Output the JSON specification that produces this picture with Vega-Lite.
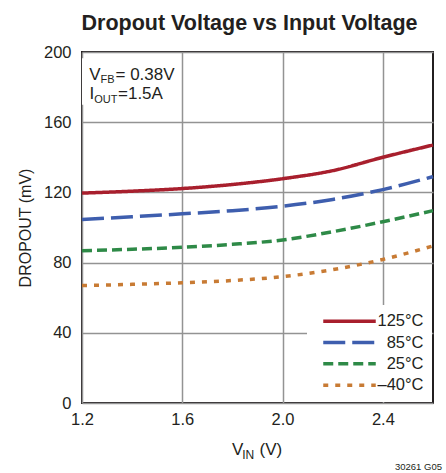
{
  "$schema": "https://vega.github.io/schema/vega-lite/v6.json",
  "width": 351,
  "height": 351,
  "autosize": {"type": "none"},
  "padding": {"left": 82, "top": 52, "right": 13, "bottom": 70},
  "background": "white",
  "title": {
    "text": "Dropout Voltage vs Input Voltage",
    "font": "Liberation Sans",
    "fontWeight": "bold",
    "fontSize": 21.5,
    "color": "#231f20",
    "anchor": "middle",
    "frame": "group",
    "dx": -8,
    "offset": 10
  },
  "config": {
    "view": {"stroke": "#231f20", "strokeWidth": 2},
    "axis": {
      "domain": false,
      "ticks": false,
      "grid": true,
      "gridColor": "#939393",
      "gridWidth": 1.5,
      "labelOverlap": false,
      "labelFont": "Liberation Sans",
      "labelFontSize": 16.5,
      "labelColor": "#231f20",
      "titleFont": "Liberation Sans",
      "titleFontSize": 16,
      "titleFontWeight": "normal",
      "titleColor": "#231f20"
    },
    "axisX": {"tickCount": 7, "labelFlush": false, "labelPadding": 8},
    "axisY": {"tickCount": 10, "labelPadding": 11, "titlePadding": 10}
  },
  "datasets": {
    "curves": [
      {"temp": "125°C", "vin": 1.2, "dropout": 119.6},
      {"temp": "125°C", "vin": 1.4, "dropout": 120.7},
      {"temp": "125°C", "vin": 1.6, "dropout": 122.2},
      {"temp": "125°C", "vin": 1.8, "dropout": 124.5},
      {"temp": "125°C", "vin": 2.0, "dropout": 127.8},
      {"temp": "125°C", "vin": 2.2, "dropout": 132.4},
      {"temp": "125°C", "vin": 2.4, "dropout": 140.0},
      {"temp": "125°C", "vin": 2.6, "dropout": 147.0},
      {"temp": "85°C", "vin": 1.2, "dropout": 104.6},
      {"temp": "85°C", "vin": 1.4, "dropout": 106.1},
      {"temp": "85°C", "vin": 1.6, "dropout": 107.8},
      {"temp": "85°C", "vin": 1.8, "dropout": 109.6},
      {"temp": "85°C", "vin": 2.0, "dropout": 112.1},
      {"temp": "85°C", "vin": 2.2, "dropout": 116.0},
      {"temp": "85°C", "vin": 2.4, "dropout": 121.6},
      {"temp": "85°C", "vin": 2.6, "dropout": 129.0},
      {"temp": "25°C", "vin": 1.2, "dropout": 86.8},
      {"temp": "25°C", "vin": 1.4, "dropout": 87.6},
      {"temp": "25°C", "vin": 1.6, "dropout": 88.7},
      {"temp": "25°C", "vin": 1.8, "dropout": 90.4},
      {"temp": "25°C", "vin": 2.0, "dropout": 92.9},
      {"temp": "25°C", "vin": 2.2, "dropout": 97.6},
      {"temp": "25°C", "vin": 2.4, "dropout": 103.3},
      {"temp": "25°C", "vin": 2.6, "dropout": 109.6},
      {"temp": "–40°C", "vin": 1.2, "dropout": 66.9},
      {"temp": "–40°C", "vin": 1.4, "dropout": 67.6},
      {"temp": "–40°C", "vin": 1.6, "dropout": 68.5},
      {"temp": "–40°C", "vin": 1.8, "dropout": 69.8},
      {"temp": "–40°C", "vin": 2.0, "dropout": 72.0},
      {"temp": "–40°C", "vin": 2.2, "dropout": 76.0},
      {"temp": "–40°C", "vin": 2.4, "dropout": 81.8},
      {"temp": "–40°C", "vin": 2.6, "dropout": 89.5}
    ],
    "notes": [
      {"note": "V", "part": "vfb_main"},
      {"note": "FB", "part": "vfb_sub"},
      {"note": "= 0.38V", "part": "vfb_val"},
      {"note": "I", "part": "iout_main"},
      {"note": "OUT", "part": "iout_sub"},
      {"note": "=1.5A", "part": "iout_val"},
      {"note": "V", "part": "xt_main"},
      {"note": "IN", "part": "xt_sub"},
      {"note": "(V)", "part": "xt_unit"},
      {"note": "30261 G05", "part": "code"},
      {"note": "", "part": "box"}
    ]
  },
  "layer": [
    {
      "data": {"name": "curves"},
      "mark": {"type": "line", "strokeWidth": 3.5, "interpolate": "monotone"},
      "encoding": {
        "x": {
          "field": "vin",
          "type": "quantitative",
          "scale": {"domain": [1.2, 2.6], "nice": false, "zero": false},
          "axis": {
            "title": null,
            "values": [1.2, 1.4, 1.6, 1.8, 2.0, 2.2, 2.4, 2.6],
            "format": ".1f",
            "labelFlush": false,
            "labelOverlap": false,
            "labelPadding": 8
          }
        },
        "y": {
          "field": "dropout",
          "type": "quantitative",
          "scale": {"domain": [0, 200], "nice": false},
          "axis": {
            "title": "DROPOUT (mV)",
            "values": [0, 20, 40, 60, 80, 100, 120, 140, 160, 180, 200],
            "labelPadding": 11,
            "titlePadding": 10,
            "labelOverlap": false
          }
        },
        "color": {
          "field": "temp",
          "type": "nominal",
          "scale": {
            "domain": ["125°C", "85°C", "25°C", "–40°C"],
            "range": ["#a81f2d", "#3e5eae", "#2e8a47", "#c87b34"]
          },
          "legend": {
            "title": null,
            "orient": "bottom-right",
            "offset": 1,
            "fillColor": "white",
            "padding": 8,
            "symbolType": "M0,0H10.5",
            "symbolSize": 100,
            "symbolStrokeWidth": 3.5,
            "labelFont": "Liberation Sans",
            "labelFontSize": 16.5,
            "labelColor": "#231f20",
            "labelAlign": "right",
            "labelOffset": 92,
            "rowPadding": 4.3
          }
        },
        "strokeDash": {
          "field": "temp",
          "type": "nominal",
          "scale": {
            "domain": ["125°C", "85°C", "25°C", "–40°C"],
            "range": [[1, 0], [22, 7], [10, 5], [5, 7]]
          },
          "legend": null
        }
      }
    },
    {
      "data": {"name": "notes"},
      "transform": [{"filter": "datum.part == 'box'"}],
      "mark": {"type": "rect", "fill": "white"},
      "encoding": {
        "x": {"datum": 1.2, "type": "quantitative"},
        "x2": {"datum": 1.59},
        "y": {"datum": 196.5, "type": "quantitative"},
        "y2": {"datum": 170}
      }
    },
    {
      "data": {"name": "notes"},
      "transform": [{"filter": "datum.part == 'vfb_main'"}],
      "mark": {"type": "text", "font": "Liberation Sans", "fontSize": 17, "color": "#231f20", "align": "left", "baseline": "alphabetic", "dx": 7.3, "dy": 28},
      "encoding": {"x": {"datum": 1.2, "type": "quantitative"}, "y": {"datum": 200, "type": "quantitative"}, "text": {"field": "note"}}
    },
    {
      "data": {"name": "notes"},
      "transform": [{"filter": "datum.part == 'vfb_sub'"}],
      "mark": {"type": "text", "font": "Liberation Sans", "fontSize": 11, "color": "#231f20", "align": "left", "baseline": "alphabetic", "dx": 18.6, "dy": 31.3},
      "encoding": {"x": {"datum": 1.2, "type": "quantitative"}, "y": {"datum": 200, "type": "quantitative"}, "text": {"field": "note"}}
    },
    {
      "data": {"name": "notes"},
      "transform": [{"filter": "datum.part == 'vfb_val'"}],
      "mark": {"type": "text", "font": "Liberation Sans", "fontSize": 17, "color": "#231f20", "align": "left", "baseline": "alphabetic", "dx": 33.5, "dy": 28},
      "encoding": {"x": {"datum": 1.2, "type": "quantitative"}, "y": {"datum": 200, "type": "quantitative"}, "text": {"field": "note"}}
    },
    {
      "data": {"name": "notes"},
      "transform": [{"filter": "datum.part == 'iout_main'"}],
      "mark": {"type": "text", "font": "Liberation Sans", "fontSize": 17, "color": "#231f20", "align": "left", "baseline": "alphabetic", "dx": 7.5, "dy": 47.3},
      "encoding": {"x": {"datum": 1.2, "type": "quantitative"}, "y": {"datum": 200, "type": "quantitative"}, "text": {"field": "note"}}
    },
    {
      "data": {"name": "notes"},
      "transform": [{"filter": "datum.part == 'iout_sub'"}],
      "mark": {"type": "text", "font": "Liberation Sans", "fontSize": 11, "color": "#231f20", "align": "left", "baseline": "alphabetic", "dx": 12.2, "dy": 50.7},
      "encoding": {"x": {"datum": 1.2, "type": "quantitative"}, "y": {"datum": 200, "type": "quantitative"}, "text": {"field": "note"}}
    },
    {
      "data": {"name": "notes"},
      "transform": [{"filter": "datum.part == 'iout_val'"}],
      "mark": {"type": "text", "font": "Liberation Sans", "fontSize": 17, "color": "#231f20", "align": "left", "baseline": "alphabetic", "dx": 36, "dy": 47.3},
      "encoding": {"x": {"datum": 1.2, "type": "quantitative"}, "y": {"datum": 200, "type": "quantitative"}, "text": {"field": "note"}}
    },
    {
      "data": {"name": "notes"},
      "transform": [{"filter": "datum.part == 'xt_main'"}],
      "mark": {"type": "text", "font": "Liberation Sans", "fontSize": 17, "color": "#231f20", "align": "left", "baseline": "alphabetic", "dx": -25.5, "dy": 52, "clip": false},
      "encoding": {"x": {"datum": 1.9, "type": "quantitative"}, "y": {"datum": 0, "type": "quantitative"}, "text": {"field": "note"}}
    },
    {
      "data": {"name": "notes"},
      "transform": [{"filter": "datum.part == 'xt_sub'"}],
      "mark": {"type": "text", "font": "Liberation Sans", "fontSize": 12, "color": "#231f20", "align": "left", "baseline": "alphabetic", "dx": -15.3, "dy": 55.5, "clip": false},
      "encoding": {"x": {"datum": 1.9, "type": "quantitative"}, "y": {"datum": 0, "type": "quantitative"}, "text": {"field": "note"}}
    },
    {
      "data": {"name": "notes"},
      "transform": [{"filter": "datum.part == 'xt_unit'"}],
      "mark": {"type": "text", "font": "Liberation Sans", "fontSize": 17, "color": "#231f20", "align": "left", "baseline": "alphabetic", "dx": 2, "dy": 52, "clip": false},
      "encoding": {"x": {"datum": 1.9, "type": "quantitative"}, "y": {"datum": 0, "type": "quantitative"}, "text": {"field": "note"}}
    },
    {
      "data": {"name": "notes"},
      "transform": [{"filter": "datum.part == 'code'"}],
      "mark": {"type": "text", "font": "Liberation Sans", "fontSize": 9.5, "color": "#231f20", "align": "right", "baseline": "alphabetic", "dx": 9, "dy": 67, "clip": false},
      "encoding": {"x": {"datum": 2.6, "type": "quantitative"}, "y": {"datum": 0, "type": "quantitative"}, "text": {"field": "note"}}
    }
  ]
}
